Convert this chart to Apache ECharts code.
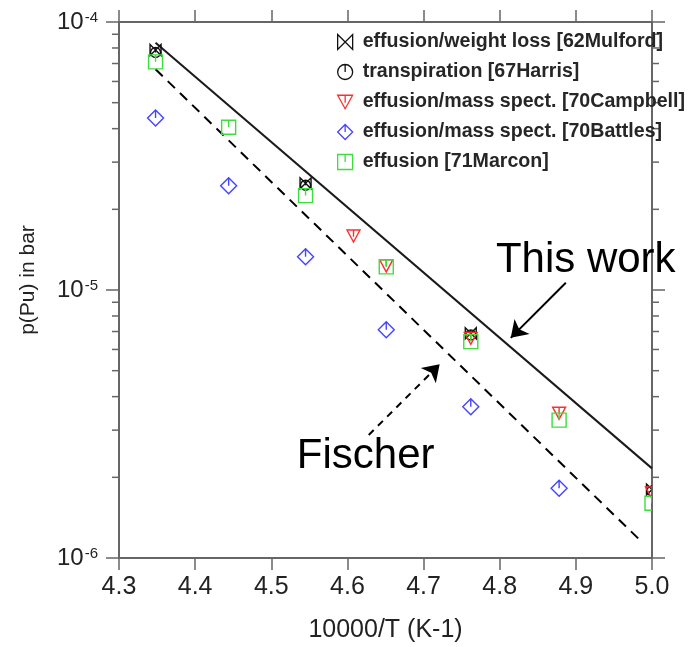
<!DOCTYPE html>
<html>
<head>
<meta charset="utf-8">
<script src="https://cdn.jsdelivr.net/npm/echarts@6/dist/echarts.min.js"></script>
<style>
  html, body { margin: 0; padding: 0; background: #fff; }
  #chart { width: 688px; height: 647px; }
</style>
</head>
<body>
<div id="chart"></div>
<script>
// Pu vapour pressure vs reciprocal temperature (x = 10000/T, K^-1), pressure in bar

// --- measurements ---
const mulfordX  = [4.348, 4.545, 4.762, 5.0];
const mulfordP  = [7.86e-5, 2.5e-5, 6.9e-6, 1.8e-6];

const harrisX   = [4.348, 4.545, 4.762, 5.0];
const harrisP   = [7.7e-5, 2.46e-5, 6.8e-6, 1.78e-6];

const campbellX = [4.608, 4.651, 4.762, 4.878, 5.0];
const campbellP = [1.59e-5, 1.23e-5, 6.6e-6, 3.47e-6, 1.75e-6];

const battlesX  = [4.348, 4.444, 4.545, 4.651, 4.762, 4.878];
const battlesP  = [4.38e-5, 2.45e-5, 1.33e-5, 7.1e-6, 3.67e-6, 1.82e-6];

const marconX   = [4.348, 4.444, 4.545, 4.651, 4.762, 4.878, 5.0];
const marconP   = [7.1e-5, 4.05e-5, 2.25e-5, 1.22e-5, 6.42e-6, 3.27e-6, 1.6e-6];

// --- assessed curves (straight in log p vs 1/T) ---
const thisWorkX = [4.348, 5.0];
const thisWorkP = [8.37e-5, 2.16e-6];

const fischerX  = [4.348, 4.985];
const fischerP  = [6.66e-5, 1.16e-6];

// --- legend names ---
const seriesNames = [
  'effusion/weight loss [62Mulford]',
  'transpiration [67Harris]',
  'effusion/mass spect. [70Campbell]',
  'effusion/mass spect. [70Battles]',
  'effusion [71Marcon]'
];

// --- annotation anchors (data coordinates) ---
const thisWorkLabelAt = [4.913, 1.294e-5];
const fischerLabelAt  = [4.624, 2.39e-6];
const thisWorkArrow   = [[4.8868, 1.065e-5], [4.8145, 6.63e-6]];
const fischerArrow    = [[4.628, 2.877e-6], [4.7211, 5.28e-6]];

// --- axis settings ---
const xMin = 4.3, xMax = 5.0, xStep = 0.1;
const yMin = 1e-6, yMax = 1e-4;

// log-axis minor tick positions (2..9 within each decade)
const minorTickValues = [];
for (let e = -6; e < -4; e++) {
  for (let m = 2; m <= 9; m++) minorTickValues.push(m * Math.pow(10, e));
}

const zip = (xs, ys) => xs.map((x, i) => [x, ys[i]]);

const FONT = '"Liberation Sans", Arial, Helvetica, sans-serif';
const AXIS_COLOR = '#666';

// marker outlines (each with a short stem from the top edge to the centre)
const PATH_BOWTIE   = 'M0,0L10,10L10,0L0,10Z';
const PATH_CIRCLE   = 'M5,0A5,5,0,1,1,4.999,0Z M5,0L5,5';
const PATH_TRIANGLE = 'M0,0L10,0L5,9Z M5,0L5,5';
const PATH_DIAMOND  = 'M5,0L10,5L5,10L0,5Z M5,0L5,5';
const PATH_SQUARE   = 'M0,0L10,0L10,10L0,10Z M5,0L5,5';

const markerSpecs = [
  { name: seriesNames[0], data: zip(mulfordX, mulfordP),   path: PATH_BOWTIE,   w: 11, h: 11, color: '#111' },
  { name: seriesNames[1], data: zip(harrisX, harrisP),     path: PATH_CIRCLE,   w: 10, h: 10, color: '#111' },
  { name: seriesNames[2], data: zip(campbellX, campbellP), path: PATH_TRIANGLE, w: 13, h: 12, color: '#ff2e2e' },
  { name: seriesNames[3], data: zip(battlesX, battlesP),   path: PATH_DIAMOND,  w: 16, h: 16, color: '#4545ff' },
  { name: seriesNames[4], data: zip(marconX, marconP),     path: PATH_SQUARE,   w: 14, h: 14, color: '#3ddd3d' }
];

// outlined markers, clipped to the plot frame
function markerSeries(spec) {
  return {
    name: spec.name,
    type: 'custom',
    data: spec.data,
    encode: { x: 0, y: 1 },
    clip: true,
    silent: true,
    z: 5,
    itemStyle: { color: spec.color },
    renderItem: (params, api) => {
      const pt = api.coord([api.value(0), api.value(1)]);
      return {
        type: 'path',
        shape: {
          pathData: spec.path,
          x: pt[0] - spec.w / 2, y: pt[1] - spec.h / 2,
          width: spec.w, height: spec.h, layout: 'cover'
        },
        style: { fill: 'none', stroke: spec.color, lineWidth: 1.4 }
      };
    }
  };
}

function textSeries(text, at) {
  return {
    type: 'scatter',
    data: [at],
    symbolSize: 0.1,
    clip: false,
    silent: true,
    itemStyle: { color: 'rgba(0,0,0,0)' },
    label: {
      show: true, position: 'inside', formatter: text,
      fontFamily: FONT, fontSize: 42, color: '#000', opacity: 1
    },
    z: 6
  };
}

const chart = echarts.init(document.getElementById('chart'), null, { renderer: 'canvas' });

const tickFormatter = v => {
  const e = Math.round(Math.log10(v));
  return '{a|10}{b|' + e + '}';
};

chart.setOption({
  backgroundColor: '#fff',
  animation: false,
  grid: { left: 119, right: 36, top: 22, bottom: 89, outerBoundsMode: 'none', containLabel: false },
  legend: {
    data: markerSpecs.map(s => ({
      name: s.name,
      icon: 'path://' + s.path,
      itemStyle: { color: 'rgba(0,0,0,0)', borderColor: s.color, borderWidth: 1.3 }
    })),
    orient: 'vertical',
    left: 337,
    top: 32,
    padding: 0,
    itemWidth: 15,
    itemHeight: 15,
    itemGap: 10,
    selectedMode: false,
    textStyle: {
      fontFamily: FONT,
      fontWeight: 'bold',
      fontSize: 19.6,
      lineHeight: 16,
      color: '#262626',
      padding: [0, 0, 0, 5]
    }
  },
  xAxis: [
    {
      type: 'value', position: 'bottom',
      min: xMin, max: xMax, interval: xStep,
      name: '10000/T (K-1)', nameLocation: 'middle', nameGap: 60,
      nameTextStyle: { fontFamily: FONT, fontSize: 25, color: '#222' },
      axisLine: { show: true, onZero: false, lineStyle: { color: AXIS_COLOR, width: 2 } },
      axisTick: { show: true, inside: false, length: 12, lineStyle: { color: AXIS_COLOR, width: 1.5 } },
      axisLabel: { margin: 17, fontFamily: FONT, fontSize: 25, color: '#222', formatter: v => v.toFixed(1) },
      splitLine: { show: false }
    },
    {
      type: 'value', position: 'top',
      min: xMin, max: xMax, interval: xStep,
      axisLine: { show: true, onZero: false, lineStyle: { color: AXIS_COLOR, width: 2 } },
      axisTick: { show: true, inside: false, length: 12, lineStyle: { color: AXIS_COLOR, width: 1.5 } },
      axisLabel: { show: false },
      splitLine: { show: false }
    }
  ],
  yAxis: [
    {
      type: 'log', logBase: 10, position: 'left',
      min: yMin, max: yMax,
      name: 'p(Pu) in bar', nameLocation: 'middle', nameGap: 80, nameRotate: 90,
      nameTextStyle: { fontFamily: FONT, fontSize: 21, color: '#222', padding: [0, 0, 0, 20] },
      axisLine: { show: true, onZero: false, lineStyle: { color: AXIS_COLOR, width: 2 } },
      axisTick: { show: true, inside: false, length: 13, lineStyle: { color: AXIS_COLOR, width: 1.5 } },
      axisLabel: {
        margin: 21,
        formatter: tickFormatter,
        rich: {
          a: { fontFamily: FONT, fontSize: 24, lineHeight: 24, color: '#222' },
          b: { fontFamily: FONT, fontSize: 15, lineHeight: 15, color: '#222', verticalAlign: 'top', padding: [0, 0, 0, 1] }
        }
      },
      splitLine: { show: false }
    },
    {
      type: 'log', logBase: 10, position: 'right',
      min: yMin, max: yMax,
      axisLine: { show: true, onZero: false, lineStyle: { color: AXIS_COLOR, width: 2 } },
      axisTick: { show: true, inside: false, length: 13, lineStyle: { color: AXIS_COLOR, width: 1.5 } },
      axisLabel: { show: false },
      splitLine: { show: false }
    }
  ],
  series: [
    // minor ticks of the log axes, left and right
    {
      type: 'custom',
      silent: true,
      clip: false,
      data: minorTickValues.map(v => [xMin, v]),
      renderItem: (params, api) => {
        const v = api.value(1);
        const pL = api.coord([xMin, v]);
        const pR = api.coord([xMax, v]);
        const st = { stroke: AXIS_COLOR, lineWidth: 1.5 };
        return {
          type: 'group',
          children: [
            { type: 'line', shape: { x1: pL[0] - 7, y1: pL[1], x2: pL[0], y2: pL[1] }, style: st },
            { type: 'line', shape: { x1: pR[0], y1: pR[1], x2: pR[0] + 7, y2: pR[1] }, style: st }
          ]
        };
      },
      z: 3
    },
    {
      name: 'This work',
      type: 'line',
      data: zip(thisWorkX, thisWorkP),
      showSymbol: false,
      silent: true,
      lineStyle: { color: '#1a1a1a', width: 2 },
      z: 4
    },
    {
      name: 'Fischer',
      type: 'line',
      data: zip(fischerX, fischerP),
      showSymbol: false,
      silent: true,
      lineStyle: { color: '#000', width: 2, type: [10, 7] },
      z: 4
    },
    ...markerSpecs.map(markerSeries),
    // annotation arrows
    {
      type: 'lines',
      coordinateSystem: 'cartesian2d',
      silent: true,
      symbol: ['none', 'arrow'],
      symbolSize: 16,
      data: [{ coords: thisWorkArrow }],
      lineStyle: { color: '#000', width: 2, opacity: 1 },
      z: 6
    },
    {
      type: 'lines',
      coordinateSystem: 'cartesian2d',
      silent: true,
      symbol: ['none', 'arrow'],
      symbolSize: 16,
      data: [{ coords: fischerArrow }],
      lineStyle: { color: '#000', width: 2, type: [7, 6], opacity: 1 },
      z: 6
    },
    textSeries('This work', thisWorkLabelAt),
    textSeries('Fischer', fischerLabelAt)
  ]
});
</script>
</body>
</html>
